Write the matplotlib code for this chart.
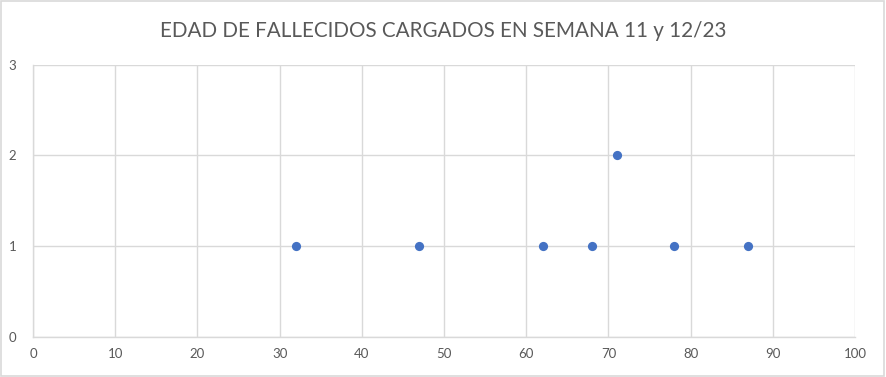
import matplotlib
matplotlib.use("Agg")
import matplotlib.pyplot as plt
from matplotlib.patches import Rectangle

# edades y cantidad de fallecidos
edades = [32, 47, 62, 68, 71, 78, 87]
cantidad = [1, 1, 1, 1, 2, 1, 1]
titulo = "EDAD DE FALLECIDOS CARGADOS EN SEMANA 11 y 12/23"

plt.rcParams['font.family'] = ['Lato', 'DejaVu Sans']
gris = '#595959'
linea = '#D9D9D9'

fig = plt.figure(figsize=(8.86, 3.77), dpi=100)
ax = fig.add_axes([0.0372, 0.1074, 0.9278, 0.7202])

ax.scatter(edades, cantidad, s=44, color='#4472C4', zorder=3, linewidths=0)

ax.set_xlim(0, 100)
ax.set_ylim(0, 3)
ax.set_xticks(range(0, 101, 10))
ax.set_yticks(range(0, 4))
ax.grid(True, color=linea, linewidth=1)
ax.set_axisbelow(True)
for s in ax.spines.values():
    s.set_color(linea)
    s.set_linewidth(1)
ax.spines['top'].set_visible(False)
ax.spines['right'].set_visible(False)
ax.tick_params(length=0, labelsize=9.5, colors=gris, pad=8)
ax.tick_params(axis='y', pad=12)

fig.text(0.5, 0.918, titulo, ha='center', va='center', fontsize=14.9, color=gris)
fig.patches.append(Rectangle((0.001, 0.002), 0.997, 0.995, transform=fig.transFigure,
                             fill=False, edgecolor=linea, linewidth=1.2))

fig.savefig("out.png", dpi=100, facecolor='white')
